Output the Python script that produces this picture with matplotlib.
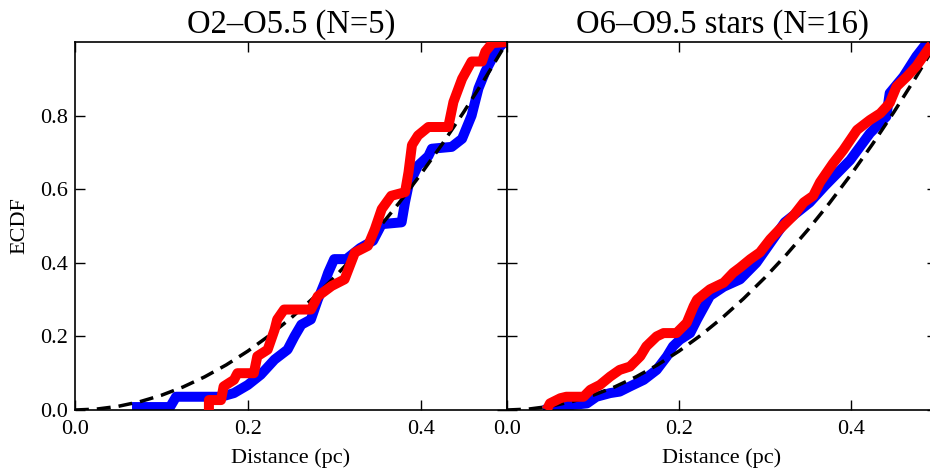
import matplotlib
matplotlib.use("Agg")
import matplotlib.pyplot as plt

# ---------------- data ----------------
titles = ["O2\u2013O5.5 (N=5)", "O6\u2013O9.5 stars (N=16)"]
xlabel_text = "Distance (pc)"
ylabel_text = "ECDF"
xtick_vals = [0.0, 0.2, 0.4]
ytick_vals = [0.0, 0.2, 0.4, 0.6, 0.8]

left_blue_x = [0.066, 0.110, 0.117, 0.169, 0.184, 0.200, 0.215, 0.231, 0.246, 0.254,
               0.262, 0.273, 0.281, 0.289, 0.293, 0.300, 0.314, 0.330, 0.345, 0.355,
               0.378, 0.382, 0.386, 0.397, 0.409, 0.413, 0.436, 0.448, 0.459, 0.467,
               0.475, 0.483, 0.490, 0.497]
left_blue_y = [0.008, 0.008, 0.036, 0.036, 0.046, 0.068, 0.096, 0.137, 0.164, 0.200,
               0.232, 0.246, 0.300, 0.346, 0.373, 0.410, 0.410, 0.440, 0.460, 0.505,
               0.510, 0.565, 0.610, 0.664, 0.690, 0.710, 0.715, 0.737, 0.800, 0.874,
               0.920, 0.956, 0.983, 1.000]

left_red_x = [0.155, 0.155, 0.169, 0.172, 0.184, 0.188, 0.207, 0.211, 0.223, 0.231,
              0.234, 0.242, 0.273, 0.281, 0.297, 0.312, 0.324, 0.339, 0.347, 0.355,
              0.366, 0.382, 0.386, 0.390, 0.397, 0.409, 0.432, 0.438, 0.448, 0.459,
              0.471, 0.475, 0.483, 0.500]
left_red_y = [0.000, 0.027, 0.027, 0.064, 0.082, 0.100, 0.100, 0.146, 0.164, 0.218,
              0.246, 0.273, 0.273, 0.309, 0.337, 0.355, 0.428, 0.446, 0.491, 0.546,
              0.582, 0.592, 0.646, 0.720, 0.746, 0.769, 0.769, 0.837, 0.900, 0.947,
              0.947, 0.974, 0.997, 1.000]

right_blue_x = [0.042, 0.066, 0.077, 0.093, 0.104, 0.120, 0.131, 0.143, 0.159, 0.174,
                0.186, 0.193, 0.201, 0.213, 0.221, 0.236, 0.252, 0.271, 0.290, 0.323,
                0.352, 0.370, 0.399, 0.422, 0.441, 0.445, 0.461, 0.476, 0.488, 0.500]
right_blue_y = [0.000, 0.009, 0.014, 0.018, 0.036, 0.046, 0.050, 0.064, 0.082, 0.109,
                0.146, 0.173, 0.191, 0.209, 0.246, 0.310, 0.335, 0.355, 0.400, 0.510,
                0.564, 0.610, 0.679, 0.752, 0.797, 0.861, 0.906, 0.961, 0.997, 1.000]

right_red_x = [0.046, 0.050, 0.062, 0.069, 0.089, 0.097, 0.108, 0.120, 0.131, 0.143,
               0.155, 0.162, 0.174, 0.182, 0.197, 0.209, 0.217, 0.221, 0.236, 0.252,
               0.263, 0.271, 0.283, 0.294, 0.306, 0.317, 0.333, 0.345, 0.356, 0.364,
               0.379, 0.391, 0.407, 0.422, 0.434, 0.445, 0.453, 0.465, 0.476, 0.484,
               0.492, 0.500]
right_red_y = [0.000, 0.018, 0.032, 0.036, 0.036, 0.055, 0.068, 0.091, 0.109, 0.118,
               0.146, 0.173, 0.200, 0.209, 0.209, 0.237, 0.282, 0.300, 0.328, 0.346,
               0.373, 0.387, 0.410, 0.428, 0.464, 0.491, 0.528, 0.564, 0.582, 0.619,
               0.670, 0.706, 0.761, 0.788, 0.806, 0.834, 0.879, 0.906, 0.934, 0.961,
               0.988, 1.000]

model_x = [0.000, 0.025, 0.050, 0.075, 0.100, 0.125, 0.150, 0.175, 0.200, 0.225,
           0.250, 0.275, 0.300, 0.325, 0.350, 0.375, 0.400, 0.425, 0.450, 0.475, 0.500]
model_y = [0.000, 0.0025, 0.010, 0.0225, 0.040, 0.0625, 0.090, 0.1225, 0.160, 0.2025,
           0.250, 0.3025, 0.360, 0.4225, 0.490, 0.5625, 0.640, 0.7225, 0.810, 0.9025, 1.000]

panels = [
    (left_blue_x, left_blue_y, left_red_x, left_red_y),
    (right_blue_x, right_blue_y, right_red_x, right_red_y),
]

# ---------------- style ----------------
plt.rcParams['font.family'] = ['Liberation Serif', 'DejaVu Serif']
plt.rcParams['mathtext.fontset'] = 'stix'

W, H = 930, 472
fig = plt.figure(figsize=(W / 100, H / 100), dpi=100)

ax_bottom = (H - 410) / H
ax_height = 368 / H
positions = [
    [75 / W, ax_bottom, 432 / W, ax_height],
    [507 / W, ax_bottom, 430 / W, ax_height],
]

for i, (bx, by, rx, ry) in enumerate(panels):
    ax = fig.add_axes(positions[i])
    ax.plot(bx, by, color=(0, 0, 1), lw=7.2, solid_joinstyle='round',
            solid_capstyle='butt', zorder=2)
    ax.plot(model_x, model_y, color='k', lw=2.5, ls=(0, (4.0, 2.3)), zorder=3)
    ax.plot(rx, ry, color=(1, 0, 0), lw=7.2, solid_joinstyle='round',
            solid_capstyle='butt', zorder=4)
    ax.set_xlim(0, 0.5)
    ax.set_ylim(0, 1.0)
    ax.set_xticks(xtick_vals)
    ax.set_xticklabels([f"{v:.1f}" for v in xtick_vals])
    ax.set_yticks(ytick_vals)
    if i == 0:
        ax.set_yticklabels([f"{v:.1f}" for v in ytick_vals])
        ax.set_ylabel(ylabel_text, fontsize=16, labelpad=8)
    else:
        ax.set_yticklabels([])
    ax.tick_params(direction='in', top=True, right=True, length=7, width=1.0,
                   labelsize=16)
    ax.tick_params(axis='x', pad=7)
    ax.tick_params(axis='y', pad=5)
    for s in ax.spines.values():
        s.set_linewidth(1.2)
    ax.set_title(titles[i], fontsize=23.5, pad=7)
    ax.set_xlabel(xlabel_text, fontsize=16, labelpad=7)

fig.savefig("out.png", dpi=100)
